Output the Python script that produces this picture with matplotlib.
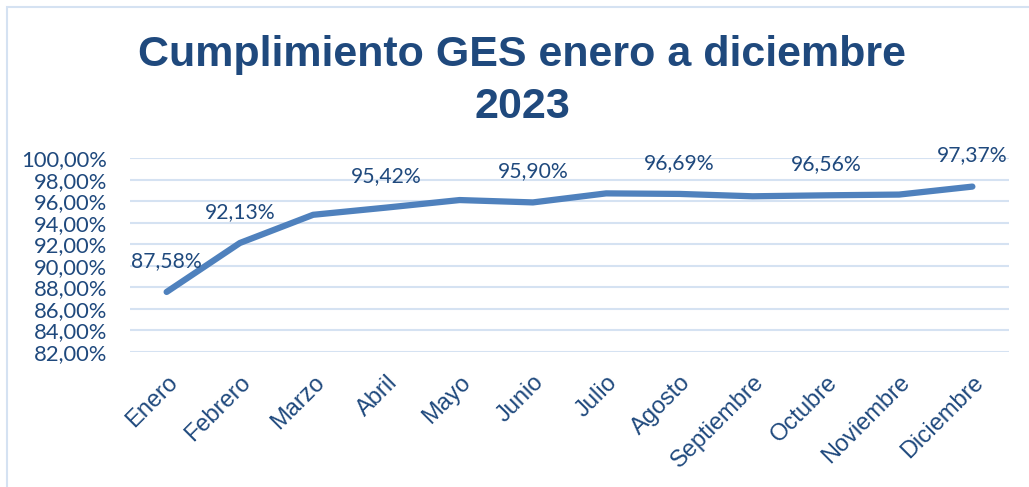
import matplotlib.pyplot as plt
from matplotlib.patches import Rectangle

meses = ['Enero', 'Febrero', 'Marzo', 'Abril', 'Mayo', 'Junio', 'Julio',
         'Agosto', 'Septiembre', 'Octubre', 'Noviembre', 'Diciembre']
cumplimiento = [87.58, 92.13, 94.75, 95.42, 96.12, 95.90, 96.74,
                96.69, 96.47, 96.56, 96.63, 97.37]
# solo se etiquetan algunos meses (como en el original)
etiquetados = [0, 1, 3, 5, 7, 9, 11]
y_ticks = list(range(82, 101, 2))

azul_texto = '#1F497D'
azul_linea = '#4F81BD'
azul_grid = '#D5E2F2'

fig = plt.figure(figsize=(10.29, 4.87), dpi=100)

# marco del grafico
fig.patches.append(Rectangle((7 / 1029, -0.1), 1.2, 1 - 7 / 487 + 0.1,
                             transform=fig.transFigure, fill=False,
                             edgecolor=azul_grid, linewidth=1.5))

ax = fig.add_axes([130 / 1029, 1 - 352 / 487, (1009 - 130) / 1029, (352 - 158.3) / 487])
x = list(range(len(meses)))
ax.plot(x, cumplimiento, color=azul_linea, linewidth=4.5, solid_capstyle='round',
        solid_joinstyle='round', zorder=3)

for i in etiquetados:
    ax.annotate(f'{cumplimiento[i]:.2f}%'.replace('.', ','), (x[i], cumplimiento[i]),
                xytext=(0, 22.5), textcoords='offset points', ha='center', va='center',
                fontsize=15.2, family='Lato', color=azul_texto)

ax.set_xlim(-0.5, 11.5)
ax.set_ylim(82, 100)
ax.set_yticks(y_ticks)
ax.set_yticklabels([f'{v:.2f}%'.replace('.', ',') for v in y_ticks],
                   fontsize=15.8, family='Lato', color=azul_texto)
ax.set_xticks(x)
ax.set_xticklabels(meses, rotation=45, ha='right', rotation_mode='anchor',
                   fontsize=17, family='Liberation Sans', color=azul_texto)
ax.tick_params(axis='both', length=0)
ax.tick_params(axis='y', pad=16.5)
ax.tick_params(axis='x', pad=14)
ax.grid(axis='y', color=azul_grid, linewidth=1.5)
ax.set_axisbelow(True)
for s in ax.spines.values():
    s.set_visible(False)

fig.text(522 / 1029, 1 - 35 / 487, 'Cumplimiento GES enero a diciembre\n2023',
         ha='center', va='top', fontsize=31, fontweight='bold',
         family='Liberation Sans', color=azul_texto, linespacing=1.38)

fig.savefig('out.png', dpi=100)
